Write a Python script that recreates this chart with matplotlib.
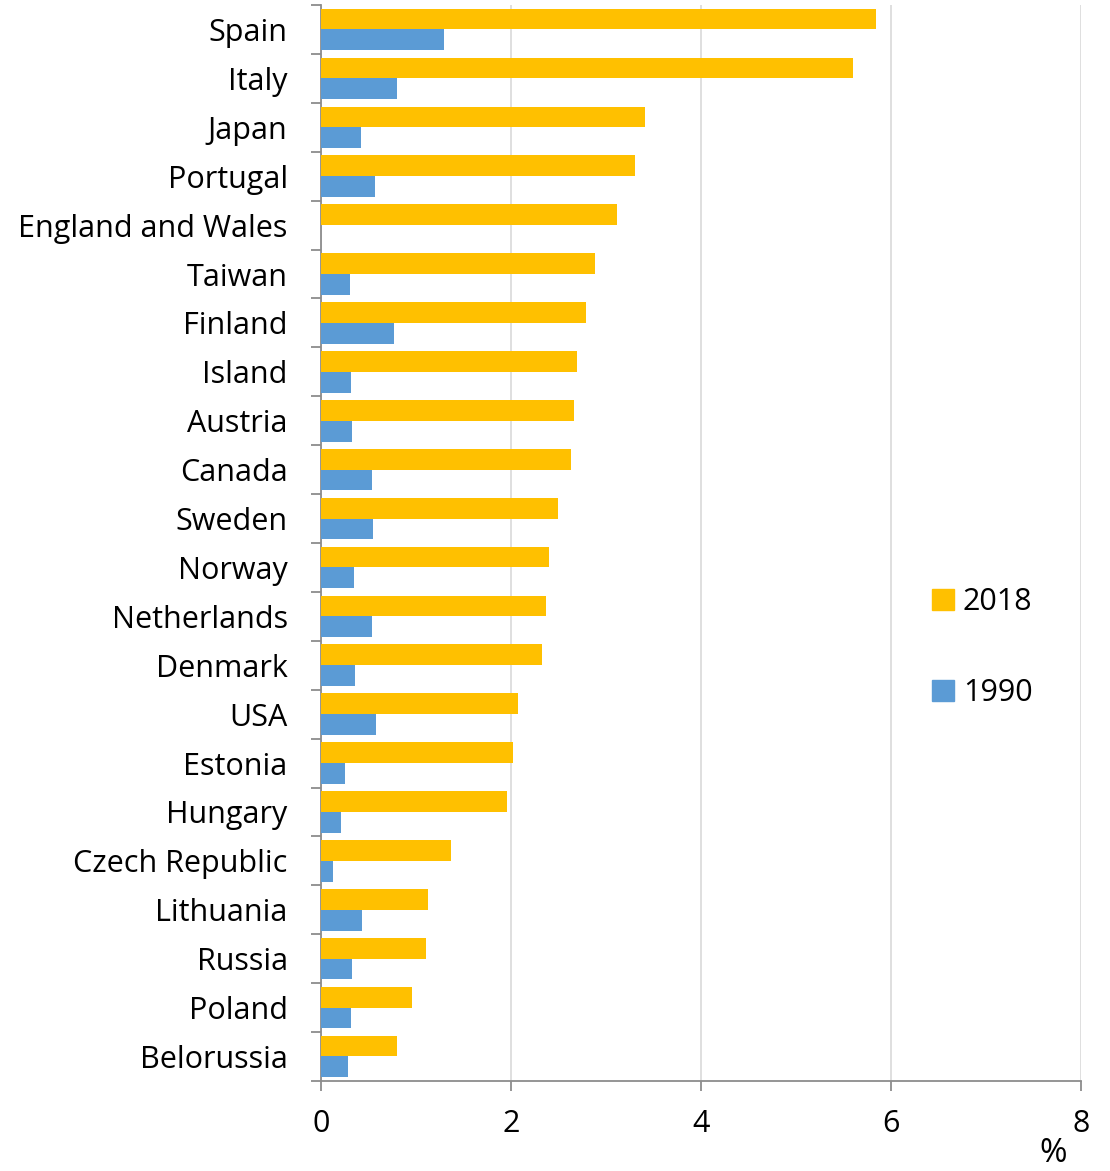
import numpy as np
import matplotlib.pyplot as plt
from matplotlib.patches import Patch

plt.rcParams['font.family'] = ['Open Sans', 'DejaVu Sans']

countries = ['Spain', 'Italy', 'Japan', 'Portugal', 'England and Wales', 'Taiwan',
             'Finland', 'Island', 'Austria', 'Canada', 'Sweden', 'Norway',
             'Netherlands', 'Denmark', 'USA', 'Estonia', 'Hungary', 'Czech Republic',
             'Lithuania', 'Russia', 'Poland', 'Belorussia']
v2018 = [5.84, 5.60, 3.41, 3.31, 3.12, 2.88, 2.79, 2.69, 2.66, 2.63, 2.49, 2.40,
         2.37, 2.33, 2.07, 2.02, 1.96, 1.37, 1.13, 1.11, 0.96, 0.80]
v1990 = [1.29, 0.80, 0.42, 0.57, 0.0, 0.31, 0.77, 0.32, 0.33, 0.54, 0.55, 0.35,
         0.54, 0.36, 0.58, 0.25, 0.21, 0.13, 0.43, 0.33, 0.32, 0.28]
xticks = [0, 2, 4, 6, 8]

c2018 = '#FFC000'
c1990 = '#5B9BD5'
axis_grey = '#8c8c8c'
fs = 22

fig = plt.figure(figsize=(11.1, 11.71), dpi=100)
ax = fig.add_axes([0.2892, 0.0769, 0.6847, 0.9188])

y = np.arange(len(countries))
h = 0.425
ax.barh(y - h / 2, v2018, height=h, color=c2018, label='2018', zorder=3)
ax.barh(y + h / 2, v1990, height=h, color=c1990, label='1990', zorder=3)

ax.set_ylim(len(countries) - 0.5, -0.5)
ax.set_xlim(0, 8)
ax.set_xticks(xticks)
ax.set_xticklabels([str(t) for t in xticks])
ax.set_yticks(y)
ax.set_yticklabels(countries)
ax.set_yticks(np.arange(len(countries) + 1) - 0.5, minor=True)

ax.xaxis.grid(True, color='#d9d9d9', linewidth=1.2, zorder=0)
for s in ['top', 'right']:
    ax.spines[s].set_visible(False)
for s in ['left', 'bottom']:
    ax.spines[s].set_color(axis_grey)
    ax.spines[s].set_linewidth(1.3)

ax.tick_params(axis='y', which='major', length=0, pad=24, labelsize=fs)
ax.tick_params(axis='y', which='minor', length=7, width=1.3, color=axis_grey)
ax.tick_params(axis='x', which='major', length=7, width=1.3, color=axis_grey,
               pad=13, labelsize=fs)

fig.text(1053 / 1110, 1 - 1153 / 1171, '%', fontsize=24, ha='center', va='center')

handles = [Patch(color=c2018, label='2018'), Patch(color=c1990, label='1990')]
fig.legend(handles=handles, loc='center left', bbox_to_anchor=(0.815, 0.447),
           frameon=False, fontsize=fs, handlelength=0.7, handleheight=0.7,
           handletextpad=0.3, labelspacing=2.0)

fig.savefig('out.png', dpi=100)
